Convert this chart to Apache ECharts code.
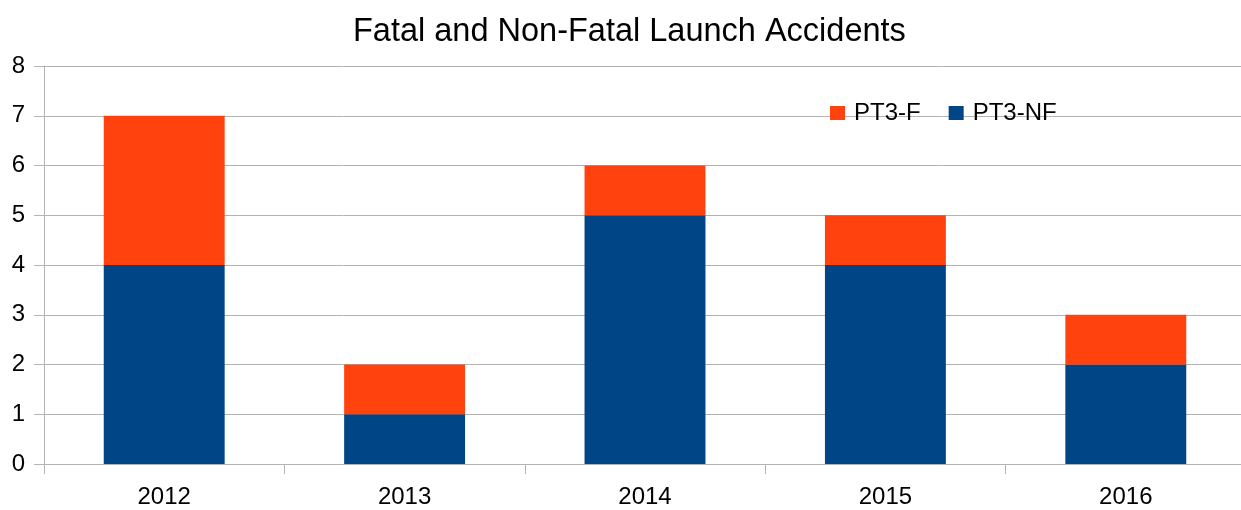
<!DOCTYPE html>
<html>
<head>
<meta charset="utf-8">
<script src="https://cdn.jsdelivr.net/npm/echarts@6/dist/echarts.min.js"></script>
<style>
  html, body { margin: 0; padding: 0; background: #fff; }
  #main { width: 1241px; height: 510px; }
</style>
</head>
<body>
<div id="main"></div>
<script>
var years = ['2012', '2013', '2014', '2015', '2016'];
var nonFatal = [4, 1, 5, 4, 2];
var fatal = [3, 1, 1, 1, 1];
var yTicks = [0, 8, 1];

var chart = echarts.init(document.getElementById('main'));
var font = '"Liberation Sans", Arial, sans-serif';

chart.setOption({
    animation: false,
    textStyle: { fontFamily: font },
    title: {
        text: 'Fatal and Non-Fatal Launch Accidents',
        left: 348,
        top: 11,
        textStyle: { fontFamily: font, fontSize: 32.5, fontWeight: 'normal', color: '#000' }
    },
    legend: {
        data: ['PT3-F', 'PT3-NF'],
        left: 825,
        top: 96,
        itemWidth: 15,
        itemHeight: 14,
        itemGap: 28,
        icon: 'rect',
        textStyle: { fontFamily: font, fontSize: 24, color: '#000', padding: [0, 0, 0, 4] }
    },
    grid: { left: 44, width: 1202, top: 66, bottom: 46, outerBoundsMode: 'none' },
    xAxis: {
        type: 'category',
        data: years,
        axisLine: { lineStyle: { color: '#b3b3b3' } },
        axisTick: { show: true, length: 10, lineStyle: { color: '#b3b3b3' } },
        axisLabel: { fontSize: 24, color: '#000', margin: 21 }
    },
    yAxis: {
        type: 'value',
        min: yTicks[0],
        max: yTicks[1],
        interval: yTicks[2],
        axisLine: { show: true, lineStyle: { color: '#b3b3b3' } },
        axisTick: { show: true, length: 10, lineStyle: { color: '#b3b3b3' } },
        splitLine: { lineStyle: { color: '#b3b3b3' } },
        axisLabel: { fontSize: 24, color: '#000', margin: 19 }
    },
    series: [
        {
            name: 'PT3-NF',
            type: 'bar',
            stack: 'total',
            data: nonFatal,
            barWidth: '50.3%',
            itemStyle: { color: '#004586' }
        },
        {
            name: 'PT3-F',
            type: 'bar',
            stack: 'total',
            data: fatal,
            itemStyle: { color: '#ff420e' }
        }
    ]
});
</script>
</body>
</html>
